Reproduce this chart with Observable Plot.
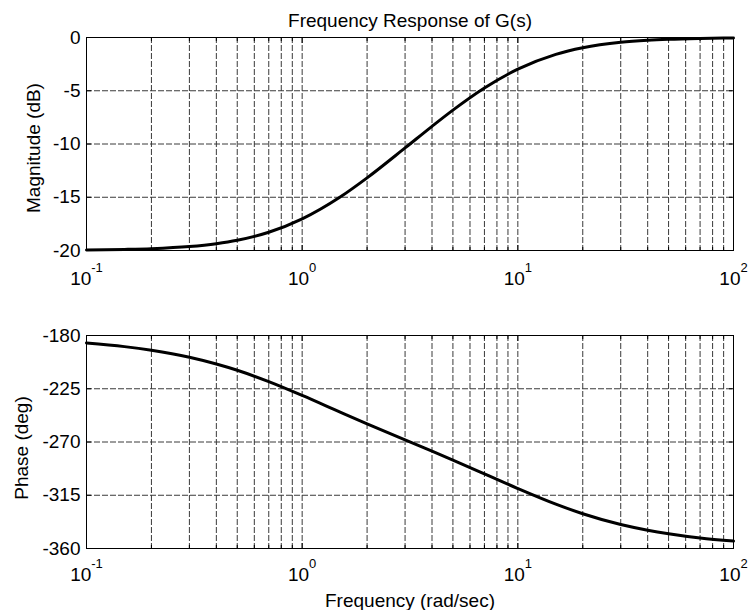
<!DOCTYPE html>
<html>
<head>
<meta charset="utf-8">
<script src="https://cdn.jsdelivr.net/npm/d3@7"></script>
<script src="https://cdn.jsdelivr.net/npm/@observablehq/plot@0.6"></script>
<style>
  body { margin: 0; background: #fff; }
  #chart svg { display: block; }
</style>
</head>
<body>
<div id="chart"></div>
<script>
// Bode response samples (rad/sec, dB, degrees)
const frequency = [0.1, 0.15, 0.2, 0.3, 0.4, 0.5, 0.7, 1, 1.5, 2, 3, 4, 5, 7, 10, 15, 20, 30, 40, 50, 70, 100];
const magnitudeDb = [-19.96, -19.90, -19.83, -19.63, -19.36, -19.04, -18.29, -17.03, -14.98, -13.18, -10.37, -8.34, -6.82, -4.74, -2.97, -1.58, -0.96, -0.45, -0.26, -0.17, -0.09, -0.04];
const phaseDeg = [-186.3, -189.4, -192.5, -198.4, -204.1, -209.4, -219.0, -230.7, -244.8, -254.7, -268.3, -277.8, -285.3, -296.9, -309.3, -322.5, -330.6, -339.7, -344.5, -347.5, -351.1, -353.7];

// Axis ticks
const decadeTicks = [0.1, 1, 10, 100];
const decadeExponents = ["-1", "0", "1", "2"];
const minorTicks = [0.2, 0.3, 0.4, 0.5, 0.6, 0.7, 0.8, 0.9,
                    2, 3, 4, 5, 6, 7, 8, 9,
                    20, 30, 40, 50, 60, 70, 80, 90];
const magnitudeTicks = [0, -5, -10, -15, -20];
const phaseTicks = [-180, -225, -270, -315, -360];

const titleText = "Frequency Response of G(s)";
const magnitudeLabel = "Magnitude (dB)";
const phaseLabel = "Phase (deg)";
const frequencyLabel = "Frequency (rad/sec)";

const FONT = "'Liberation Sans', Arial, Helvetica, sans-serif";
const FS = 19;      // main text size
const EXP_FS = 13;  // superscript size

// Decade labels drawn as "10" plus a raised exponent, centred as a unit on the tick
function decadeLabels(baseDy, expDy) {
  const baseW = 1.112 * FS;
  return decadeTicks.flatMap((d, i) => {
    const exp = decadeExponents[i];
    const expW = EXP_FS * [...exp].reduce((s, c) => s + (c === "-" ? 0.333 : 0.556), 0);
    const shift = (baseW - expW) / 2;
    return [
      Plot.text([d], {x: (v) => v, frameAnchor: "bottom", text: () => "10",
        textAnchor: "end", lineAnchor: "bottom", dx: shift, dy: baseDy, fontSize: FS, fill: "black"}),
      Plot.text([d], {x: (v) => v, frameAnchor: "bottom", text: () => exp,
        textAnchor: "start", lineAnchor: "bottom", dx: shift, dy: expDy, fontSize: EXP_FS, fill: "black"})
    ];
  });
}

function panel({height, marginTop, marginBottom, values, yDomain, yTicks, yLabel, yLabelDx, yLabelDy, baseDy, expDy, extra}) {
  const rows = frequency.map((f, i) => ({f, v: values[i]}));
  const gridFreqs = [...minorTicks, ...decadeTicks];
  const grid = {stroke: "#3a3a3a", strokeOpacity: 1, strokeWidth: 1, strokeDasharray: "6,2"};
  return Plot.plot({
    width: 749,
    height,
    marginLeft: 86,
    marginRight: 16,
    marginTop,
    marginBottom,
    style: {fontFamily: FONT, fontSize: FS + "px", color: "black", background: "white"},
    x: {type: "log", domain: [0.1, 100], label: null},
    y: {domain: yDomain, label: null},
    marks: [
      Plot.gridX(gridFreqs, grid),
      Plot.gridY(yTicks, grid),
      // inward tick marks on all four sides
      Plot.axisX(decadeTicks, {anchor: "bottom", tickSize: -5, tickFormat: () => "", label: null}),
      Plot.axisX(decadeTicks, {anchor: "top", tickSize: -5, tickFormat: () => "", label: null}),
      Plot.axisX(minorTicks, {anchor: "bottom", tickSize: -3, tickFormat: () => "", label: null}),
      Plot.axisX(minorTicks, {anchor: "top", tickSize: -3, tickFormat: () => "", label: null}),
      Plot.axisY(yTicks, {anchor: "right", tickSize: -5, tickFormat: () => "", label: null}),
      Plot.axisY(yTicks, {anchor: "left", tickSize: -5, tickFormat: () => "", label: null}),
      // y tick labels, written with a plain hyphen
      Plot.axisY(yTicks, {anchor: "left", tickSize: 0, tickPadding: 6, fontSize: FS,
        tickFormat: (d) => String(d), label: null}),
      ...decadeLabels(baseDy, expDy),
      Plot.text([yLabel], {frameAnchor: "left", rotate: -90, textAnchor: "middle", lineAnchor: "bottom",
        dx: yLabelDx, dy: yLabelDy, fontSize: FS, fill: "black"}),
      Plot.line(rows, {x: "f", y: "v", stroke: "black", strokeWidth: 3, curve: "monotone-x"}),
      Plot.frame({stroke: "black", strokeWidth: 1}),
      ...(extra || [])
    ]
  });
}

const magnitudePanel = panel({
  height: 290, marginTop: 37, marginBottom: 40,
  values: magnitudeDb, yDomain: [-20, 0], yTicks: magnitudeTicks,
  yLabel: magnitudeLabel, yLabelDx: -47, yLabelDy: 4, baseDy: 34, expDy: 21,
  extra: [
    Plot.text([titleText], {frameAnchor: "top", lineAnchor: "bottom", dy: -11, fontSize: FS, fill: "black"})
  ]
});

const phasePanel = panel({
  height: 320, marginTop: 45, marginBottom: 62,
  values: phaseDeg, yDomain: [-360, -180], yTicks: phaseTicks,
  yLabel: phaseLabel, yLabelDx: -59, yLabelDy: 6, baseDy: 32, expDy: 19,
  extra: [
    Plot.text([frequencyLabel], {frameAnchor: "bottom", lineAnchor: "bottom", dy: 58, fontSize: FS, fill: "black"})
  ]
});

document.getElementById("chart").append(magnitudePanel, phasePanel);
</script>
</body>
</html>
